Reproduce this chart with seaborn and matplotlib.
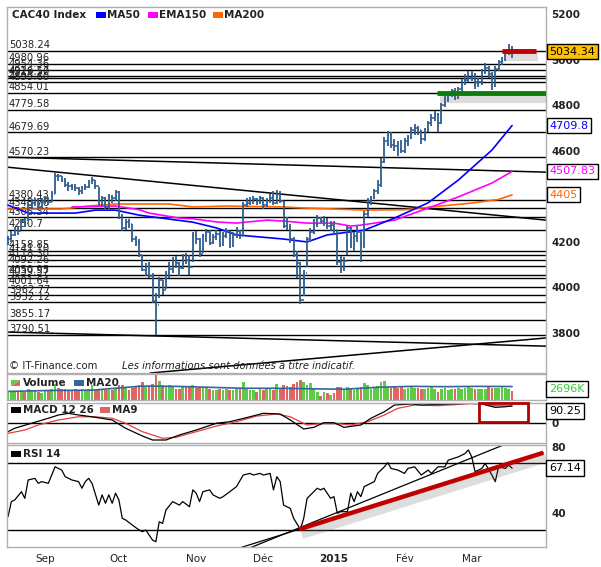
import numpy as np
import matplotlib
matplotlib.use("Agg")
import matplotlib.pyplot as plt
import matplotlib.patheffects as pe
from matplotlib.patches import Rectangle, Polygon
from matplotlib.transforms import blended_transform_factory
import seaborn as sns

# ---------------- data ----------------
# one value per trading day, 15 Aug 2014 .. 18 Mar 2015
close = [4210, 4230, 4250, 4245, 4290, 4280, 4360, 4370, 4380, 4350, 4380,
         4385, 4375, 4410, 4490, 4486, 4470, 4450, 4445, 4440, 4435, 4420, 4430, 4440, 4460, 4470, 4445, 4360, 4390, 4350, 4395, 4390, 4416,
         4310, 4260, 4285, 4275, 4210, 4200, 4140, 4075, 4080, 4050, 3940, 3920, 4030, 3985, 4060, 4080, 4120, 4105, 4085, 4130, 4120, 4090, 4230,
         4210, 4145, 4225, 4240, 4195, 4220, 4235, 4190, 4225, 4245, 4180, 4230, 4245, 4225, 4360, 4370, 4380, 4385, 4375, 4390,
         4360, 4380, 4390, 4370, 4415, 4380, 4270, 4265, 4210, 4140, 4105, 3945, 4060, 4210, 4240, 4275, 4305, 4290, 4300, 4270, 4272,
         4250, 4110, 4085, 4115, 4260, 4180, 4225, 4240, 4190, 4320, 4380, 4390, 4420, 4450, 4550, 4640, 4670, 4625, 4620, 4605, 4600,
         4640, 4655, 4690, 4700, 4690, 4650, 4690, 4720, 4745, 4760, 4720, 4800, 4830, 4845, 4860, 4830, 4870, 4900, 4910, 4920,
         4930, 4900, 4900, 4945, 4965, 4935, 4890, 4960, 4990, 5000, 5030, 5040, 5034]
high = [4225, 4245, 4262, 4265, 4300, 4305, 4372, 4385, 4392, 4385, 4390,
        4400, 4395, 4420, 4500, 4498, 4490, 4478, 4460, 4455, 4452, 4440, 4445, 4455, 4470, 4485, 4472, 4440, 4400, 4395, 4410, 4405, 4425,
        4420, 4320, 4300, 4300, 4275, 4225, 4210, 4140, 4105, 4110, 4060, 3975, 4045, 4030, 4070, 4110, 4130, 4135, 4110, 4145, 4150, 4140, 4240,
        4245, 4215, 4235, 4255, 4250, 4235, 4250, 4245, 4240, 4260, 4245, 4240, 4262, 4250, 4375, 4390, 4395, 4400, 4392, 4402,
        4395, 4392, 4410, 4420, 4425, 4420, 4380, 4310, 4275, 4220, 4160, 4110, 4075, 4220, 4260, 4300, 4318, 4310, 4312, 4305, 4290,
        4290, 4250, 4135, 4130, 4270, 4265, 4240, 4270, 4240, 4335, 4390, 4400, 4430, 4470, 4565, 4660, 4685, 4680, 4650, 4640, 4645,
        4655, 4670, 4705, 4715, 4710, 4690, 4700, 4730, 4760, 4775, 4765, 4810, 4840, 4855, 4870, 4875, 4880, 4915, 4935, 4950,
        4950, 4940, 4920, 4960, 4985, 4970, 4945, 4970, 5000, 5010, 5040, 5070, 5060]
low = [4185, 4200, 4225, 4230, 4250, 4265, 4290, 4345, 4355, 4340, 4345,
       4365, 4360, 4372, 4410, 4465, 4460, 4440, 4420, 4425, 4420, 4405, 4410, 4425, 4435, 4455, 4430, 4355, 4355, 4340, 4345, 4370, 4380,
       4300, 4245, 4250, 4260, 4200, 4180, 4130, 4070, 4050, 4040, 3930, 3790, 3950, 3965, 3990, 4040, 4060, 4085, 4050, 4080, 4100, 4055, 4110,
       4190, 4130, 4150, 4200, 4185, 4190, 4205, 4175, 4180, 4215, 4170, 4175, 4215, 4210, 4225, 4350, 4360, 4365, 4360, 4365,
       4345, 4350, 4370, 4360, 4365, 4370, 4260, 4250, 4195, 4130, 4040, 3926, 3960, 4090, 4200, 4235, 4265, 4280, 4270, 4255, 4245,
       4235, 4095, 4060, 4070, 4140, 4170, 4160, 4200, 4110, 4170, 4310, 4360, 4385, 4410, 4440, 4545, 4620, 4610, 4600, 4575, 4590,
       4590, 4620, 4650, 4670, 4670, 4630, 4640, 4680, 4710, 4730, 4680, 4715, 4790, 4815, 4835, 4820, 4825, 4860, 4890, 4900,
       4905, 4870, 4880, 4890, 4935, 4920, 4865, 4880, 4950, 4975, 4995, 5020, 5005]
volume = [2400, 2600, 2500, 2700, 2900, 2600, 3400, 2800, 2700, 2600, 2300,
          2900, 3300, 3500, 5200, 3800, 3600, 3400, 3000, 3200, 3500, 3300, 3600, 3300, 3400, 4800, 3000, 3600, 3400, 3300, 3200, 3000, 3700,
          4800, 4700, 3900, 3200, 3900, 4400, 4600, 5600, 4200, 4400, 5200, 8000, 6000, 4800, 4300, 4600, 4100, 3600, 3500, 4000, 4200, 4100, 4600,
          3700, 4100, 3800, 4000, 3600, 3300, 3200, 3600, 3100, 3500, 3000, 3300, 3400, 3600, 5800, 3500, 3300, 3100, 2400, 3600,
          3300, 3400, 3600, 3300, 5200, 3800, 4600, 4400, 4200, 5000, 5800, 6200, 5600, 4800, 5400, 3600, 2400, 1200, 2600, 2300, 1500,
          2200, 4200, 4000, 3600, 4200, 3800, 3200, 3400, 4100, 5400, 4600, 3400, 3800, 4400, 5600, 6000, 4200, 3800, 4000, 3900, 4200,
          3600, 3800, 4000, 3700, 3800, 3500, 3600, 3900, 4000, 3600, 2600, 3600, 3700, 3300, 3500, 3400, 3700, 3600, 3800, 4100,
          3900, 3600, 3500, 3400, 3600, 4200, 3900, 3700, 3800, 4400, 3800, 3600, 2696]

vol_ma_idx = [0, 12, 25, 40, 50, 60, 70, 80, 92, 100, 110, 120, 130, 140, 150]
vol_ma = [2700, 3000, 3100, 4400, 4300, 4000, 3700, 3700, 3500, 3400, 4000, 4300, 4200, 4300, 4250]

ma50_idx = [0, 6, 20, 26, 32, 39, 55, 62, 68, 82, 89, 95, 99, 106, 115, 125, 134, 144, 150]
ma50 = [4360, 4325, 4325, 4338, 4338, 4316, 4285, 4260, 4229, 4211, 4198, 4229, 4237, 4250, 4303, 4370, 4470, 4602, 4709.8]
ema150_idx = [19, 32, 39, 42, 51, 55, 62, 68, 77, 82, 89, 97, 102, 105, 115, 125, 134, 144, 150]
ema150 = [4352, 4356, 4340, 4325, 4303, 4300, 4286, 4281, 4294, 4290, 4281, 4281, 4268, 4272, 4294, 4347, 4396, 4457, 4507.83]
ma200_idx = [0, 16, 24, 32, 48, 55, 65, 82, 87, 97, 106, 118, 126, 138, 146, 150]
ma200 = [4343, 4343, 4356, 4365, 4365, 4352, 4356, 4352, 4348, 4343, 4338, 4340, 4352, 4369, 4385, 4405]

macd_idx = [0, 2, 7, 12, 15, 18, 21, 25, 31, 35, 40, 43, 47, 51, 56, 62, 66, 72, 76, 81, 84, 88, 91, 94, 97,
            100, 105, 108, 112, 115, 120, 123, 128, 132, 137, 141, 145, 148, 150]
macd = [-48.6, -30, -3, 24, 41.6, 50.8, 41.6, 32, 14.6, -30, -72, -93.5, -93.5, -66.5, -39.5, -3, 5.4, 32, 50.8, 47,
        14.6, -34, -25, 0, 0, -25, -12.4, 24, 59.5, 95.7, 101, 95.7, 99, 101, 105, 101, 83, 86.5, 90.25]
signal_idx = [0, 5, 9, 15, 21, 26, 31, 35, 40, 46, 50, 56, 62, 68, 74, 80, 84, 89, 93, 98, 102, 107, 112, 116,
              121, 128, 134, 140, 145, 150]
signal = [-57.5, -39.5, -12.4, 14.6, 32, 32, 24, -3, -48.6, -84.3, -79, -48.6, -18, 5.4, 36, 47, 32, -12.4, -5, -5,
          -12.4, 5.4, 41.6, 77.8, 95.7, 92, 99, 105, 92, 90]

rsi_idx = [0, 1, 2, 4, 5, 6, 8, 9, 10, 12, 14, 16, 17, 19, 21, 22, 23, 24, 25, 27, 28, 29, 30, 31, 32, 33, 34, 35, 37,
           39, 40, 41, 43, 44, 45, 46, 47, 49, 51, 52, 54, 55, 56, 57, 58, 60, 61, 63, 64, 66, 68, 70, 72, 73, 75, 76,
           78, 79, 80, 81, 82, 84, 85, 87, 88, 89, 91, 92, 93, 94, 96, 97, 98, 99, 101, 102, 103, 104, 105, 106, 109,
           110, 112, 113, 114, 116, 118, 119, 121, 123, 125, 126, 128, 130, 131, 134, 136, 137, 138, 139, 141, 142,
           144, 145, 146, 148, 149, 150]
rsi = [37.8, 46.9, 47.9, 52.9, 48.9, 60, 61, 58, 59, 58, 68, 66, 62, 60, 59, 55, 59, 61, 58, 44.8, 51, 45.9, 51, 45.9,
       52, 47.9, 36.8, 35.8, 32.7, 29.7, 28.7, 29.7, 23.6, 22.6, 34.7, 33.7, 41.8, 46.9, 44.8, 46.9, 43.8, 54, 52, 46.9,
       52.9, 54, 51, 48.9, 49.9, 52.9, 56, 63, 64, 63, 64, 63, 64, 54, 62, 59, 44.8, 42.8, 36.8, 30.1, 36.8, 48.9, 52.9,
       55, 54, 55, 48.9, 49.9, 39.8, 40.8, 40.8, 52, 46.9, 52.9, 49.9, 56, 59, 64, 68, 70.5, 67, 66, 64, 67, 68, 63, 66,
       64, 68, 68, 72, 74, 76, 78.2, 74, 65, 67, 70, 63, 59, 68, 67, 69, 67.14]

# horizontal support / resistance levels
level_vals = [5038.24, 4980.96, 4954.36, 4926.17, 4919.50, 4899.60, 4854.01, 4779.58, 4679.69, 4570.23,
              4380.43, 4345.76, 4306.34, 4250.70, 4158.85, 4141.10, 4118.30, 4092.26, 4050.95, 4039.57,
              4001.64, 3962.77, 3932.12, 3855.17, 3790.51]
level_text = ["5038.24", "4980.96", "4954.36", "4926.17", "4919.50", "4899.60", "4854.01", "4779.58", "4679.69", "4570.23",
              "4380.43", "4345.76", "4306.34", "4250.7", "4158.85", "4141.10", "4118.30", "4092.26", "4050.95", "4039.57",
              "4001.64", "3962.77", "3932.12", "3855.17", "3790.51"]

# drawn trend lines (start, end) as (day index, value)
price_trends = [((-0.3, 4571), (160.1, 4505)), ((-0.3, 4527), (160.1, 4294)),
                ((-0.3, 3802), (160.1, 3740)), ((42.3, 3622), (160.1, 3776))]
green_seg = ((127.7, 4853), (160.1, 4853))
red_seg = ((147, 5037), (157, 5037))
rsi_thin = [((69.5, 19.2), (159.3, 76.5)), ((72.4, 19.2), (147.4, 81.2))]
rsi_red = ((86.6, 30.1), (159.3, 76.5))
macd_box = (140.2, 3, 154.8, 108)

month_idx = [11, 33, 56, 76, 97, 118, 138]
month_lab = ["Sep", "Oct", "Nov", "Déc", "2015", "Fév", "Mar"]
price_ticks = [3800, 4000, 4200, 4400, 4600, 4800, 5000, 5200]

# ---------------- figure ----------------
sns.set_style("white")
plt.rcParams['font.family'] = ['DejaVu Sans']

W, H = 601, 567
fig = plt.figure(figsize=(W / 100, H / 100), dpi=100)


def box(l, t, r, b):
    return [l / W, 1 - b / H, (r - l) / W, (b - t) / H]


ax = fig.add_axes(box(7, 7, 546, 373))
axv = fig.add_axes(box(7, 374, 546, 400), sharex=ax)
axm = fig.add_axes(box(7, 403, 546, 443), sharex=ax)
axr = fig.add_axes(box(7, 445, 546, 547), sharex=ax)

for a in (ax, axv, axm, axr):
    for s in a.spines.values():
        s.set_color("#B0B0B0")
        s.set_linewidth(1)
    a.yaxis.tick_right()
    a.tick_params(axis="both", length=0, labelsize=7.5, colors="#222222", pad=4)
    a.set_xlim(-0.3, 160.1)
for a in (ax, axv, axm):
    a.tick_params(labelbottom=False)

n = len(close)
idx = np.arange(n)
opens = np.r_[close[0], close[:-1]]
bar_col = "#2F5E8E"

shadow = [pe.SimpleLineShadow(offset=(2, -4), shadow_color="#666666", alpha=0.22, linewidth=6), pe.Normal()]

# ---- main price panel ----
ax.set_ylim(3622, 5231)
for lv, lab in zip(level_vals, level_text):
    ax.axhline(lv, color="black", lw=1, zorder=1)
    ax.text(0.3, lv + 3, lab, fontsize=7.2, color="#222222", va="bottom", ha="left", zorder=2)
for (x0, y0), (x1, y1) in price_trends:
    ax.plot([x0, x1], [y0, y1], color="black", lw=1.1, zorder=1)

sns.lineplot(x=ma200_idx, y=ma200, ax=ax, color="#FF6600", lw=1.2, estimator=None, zorder=3)
sns.lineplot(x=ema150_idx, y=ema150, ax=ax, color="#FF00FF", lw=1.2, estimator=None, zorder=3)
sns.lineplot(x=ma50_idx, y=ma50, ax=ax, color="#0000FF", lw=1.2, estimator=None, zorder=3)

ax.vlines(idx, low, high, color=bar_col, lw=1.3, zorder=4)
ax.hlines(opens, idx - 0.45, idx, color=bar_col, lw=1.1, zorder=4)
ax.hlines(close, idx, idx + 0.45, color=bar_col, lw=1.1, zorder=4)

ax.plot([green_seg[0][0], green_seg[1][0]], [green_seg[0][1], green_seg[1][1]],
        color="#0A7D0A", lw=3.5, solid_capstyle="butt", path_effects=shadow, zorder=5)
ax.plot([red_seg[0][0], red_seg[1][0]], [red_seg[0][1], red_seg[1][1]],
        color="#C00000", lw=3.5, solid_capstyle="butt", path_effects=shadow, zorder=5)

ax.set_yticks(price_ticks)
ax.set_yticklabels([str(t) for t in price_ticks], fontweight="bold")
ax.set_xticks(month_idx)
ax.set_xlabel("")
ax.set_ylabel("")

tr = blended_transform_factory(ax.transAxes, ax.transData)
tag_specs = [(5034.34, "5034.34", "black", "#FFC000"), (4709.8, "4709.8", "#0000FF", "white"),
             (4507.83, "4507.83", "#FF00FF", "white"), (4405, "4405", "#FF6600", "white")]
for val, txt, tc, fc in tag_specs:
    ax.text(1.006, val, txt, transform=tr, fontsize=8, color=tc, va="center", ha="left", zorder=10,
            bbox=dict(boxstyle="square,pad=0.22", fc=fc, ec="black", lw=1))

ax.text(0.004, 0.02, "© IT-Finance.com", transform=ax.transAxes, fontsize=7.3, color="#222222", va="center")
ax.text(0.213, 0.02, "Les informations sont données à titre indicatif.", transform=ax.transAxes,
        fontsize=7.2, style="italic", color="#222222", va="center")

# ---- volume panel ----
up = np.array(close) >= opens
vcols = np.where(up, "#5DCB45", "#E06666")
axv.bar(idx, volume, width=0.8, color=vcols, linewidth=0)
sns.lineplot(x=vol_ma_idx, y=vol_ma, ax=axv, color="#336699", lw=1.2, estimator=None)
axv.set_ylim(0, 8200)
axv.set_yticks([])
axv.set_xlabel("")
axv.set_ylabel("")
axv.text(1.006, 0.42, "2696K", transform=axv.transAxes, fontsize=8, color="#33CC33", va="center", ha="left",
         bbox=dict(boxstyle="square,pad=0.3", fc="white", ec="black", lw=1))

# ---- MACD panel ----
axm.axhline(0, color="black", lw=1)
sns.lineplot(x=signal_idx, y=signal, ax=axm, color="#E04040", lw=0.9, estimator=None)
sns.lineplot(x=macd_idx, y=macd, ax=axm, color="black", lw=0.9, estimator=None)
axm.set_ylim(-109.7, 106.5)
axm.set_yticks([0])
axm.set_yticklabels(["0"], fontweight="bold")
axm.set_xlabel("")
axm.set_ylabel("")
axm.add_patch(Rectangle((macd_box[0], macd_box[1]), macd_box[2] - macd_box[0], macd_box[3] - macd_box[1],
                        fill=False, edgecolor="#B00000", lw=2, clip_on=False, zorder=6))
axm.text(1.006, 0.8, "90.25", transform=axm.transAxes, fontsize=8, color="black", va="center", ha="left",
         bbox=dict(boxstyle="square,pad=0.25", fc="white", ec="black", lw=1))

# ---- RSI panel ----
axr.set_ylim(19.4, 81.2)
axr.axhline(70, color="black", lw=1)
axr.axhline(30, color="black", lw=1)
for (x0, y0), (x1, y1) in rsi_thin:
    axr.plot([x0, x1], [y0, y1], color="black", lw=0.9)
sns.lineplot(x=rsi_idx, y=rsi, ax=axr, color="black", lw=0.9, estimator=None)
axr.plot([rsi_red[0][0], rsi_red[1][0]], [rsi_red[0][1], rsi_red[1][1]], color="#C00000", lw=3.2,
         solid_capstyle="butt", path_effects=shadow, zorder=5)
axr.set_yticks([40, 80])
axr.set_yticklabels(["40", "80"], fontweight="bold")
axr.set_xticks(month_idx)
axr.set_xticklabels(month_lab)
axr.tick_params(axis="x", pad=5)
for t in axr.get_xticklabels():
    if t.get_text() == "2015":
        t.set_fontweight("bold")
axr.set_xlabel("")
axr.set_ylabel("")
trr = blended_transform_factory(axr.transAxes, axr.transData)
axr.text(1.006, 67.14, "67.14", transform=trr, fontsize=8, color="black", va="center", ha="left",
         bbox=dict(boxstyle="square,pad=0.25", fc="white", ec="black", lw=1))


# ---- legends (figure pixel coordinates) ----
def swatch(x, y, w, h, color):
    fig.patches.append(Rectangle((x / W, 1 - (y + h) / H), w / W, h / H, transform=fig.transFigure,
                                 facecolor=color, edgecolor="none"))


def label(x, y, s, bold=True):
    fig.text(x / W, 1 - y / H, s, fontsize=7.5, fontweight="bold" if bold else "normal",
             color="#222222", va="center", ha="left")


label(12, 15, "CAC40 Index")
swatch(96, 12, 10, 6, "#0000FF")
label(107, 15, "MA50")
swatch(148, 12, 10, 6, "#FF00FF")
label(159, 15, "EMA150")
swatch(213, 12, 10, 6, "#FF6600")
label(224, 15, "MA200")

fig.patches.append(Polygon([(11 / W, 1 - 386 / H), (20 / W, 1 - 380 / H), (20 / W, 1 - 386 / H)],
                           closed=True, transform=fig.transFigure, facecolor="#E06666", edgecolor="none"))
fig.patches.append(Polygon([(11 / W, 1 - 386 / H), (11 / W, 1 - 380 / H), (20 / W, 1 - 380 / H)],
                           closed=True, transform=fig.transFigure, facecolor="#5DCB45", edgecolor="none"))
label(23, 383, "Volume")
swatch(74, 380, 10, 6, "#336699")
label(86, 383, "MA20")

swatch(11, 407, 10, 6, "black")
label(23, 410, "MACD 12 26")
swatch(100, 407, 10, 6, "#E06666")
label(112, 410, "MA9")

swatch(11, 451, 10, 6, "black")
label(23, 454, "RSI 14")

fig.savefig("out.png", dpi=100)
